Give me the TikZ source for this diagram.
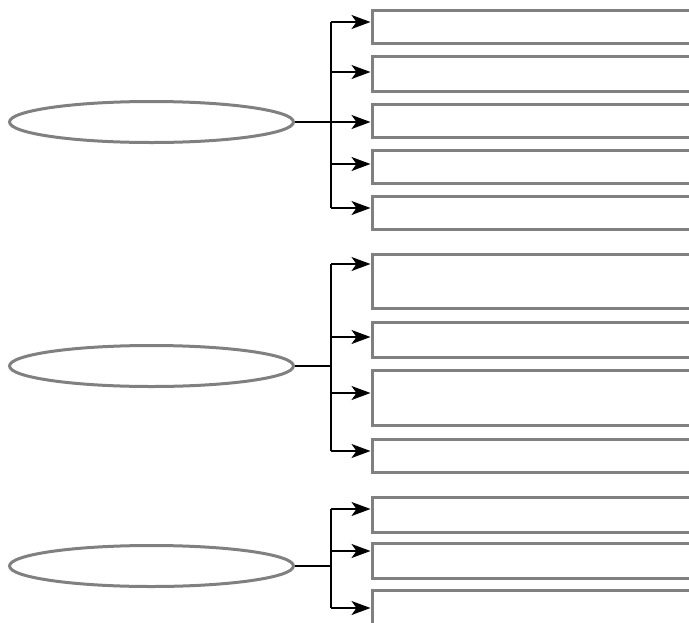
\documentclass[tikz,border=0pt]{standalone}
\usetikzlibrary{shapes.geometric,arrows.meta}
\definecolor{boxgray}{HTML}{808080}
\begin{document}
\begin{tikzpicture}[x=1pt,y=-1pt,
  box/.style={draw=boxgray,line width=3.2pt,anchor=north west,minimum width=340pt,inner sep=0pt,fill=white},
  oval/.style={ellipse,draw=boxgray,line width=3pt,minimum width=284pt,minimum height=41pt,inner sep=0pt},
  link/.style={line width=2pt,black},
  arr/.style={link,-{Stealth[length=19pt,width=14pt,inset=5pt]}}]
\useasboundingbox (0,0) rectangle (689,622);
\begin{scope}
\clip (0,0) rectangle (689,622);
% ---------- group 1 ----------
\node[oval] (e1) at (151.5,122) {};
\node[box,minimum height=33pt] (b11) at (370.5,8.5) {};
\node[box,minimum height=35pt] (b12) at (370.5,54.5) {};
\node[box,minimum height=33pt] (b13) at (370.5,102.5) {};
\node[box,minimum height=33pt] (b14) at (370.5,148.5) {};
\node[box,minimum height=33pt] (b15) at (370.5,194.5) {};
\coordinate (j11) at (331,22);
\coordinate (j12) at (331,72);
\coordinate (j13) at (331,122);
\coordinate (j14) at (331,164);
\coordinate (j15) at (331,208);
\draw[link] (e1.east) -- (j13);
\draw[link] (j11) -- (j15);
\draw[arr] (j11) -- (j11 -| b11.west);
\draw[arr] (j12) -- (j12 -| b12.west);
\draw[arr] (j13) -- (j13 -| b13.west);
\draw[arr] (j14) -- (j14 -| b14.west);
\draw[arr] (j15) -- (j15 -| b15.west);
% ---------- group 2 ----------
\node[oval] (e2) at (151.5,366) {};
\node[box,minimum height=54pt] (b21) at (370.5,252.5) {};
\node[box,minimum height=35pt] (b22) at (370.5,320.5) {};
\node[box,minimum height=55pt] (b23) at (370.5,368.5) {};
\node[box,minimum height=33pt] (b24) at (370.5,437.5) {};
\coordinate (j21) at (331,264);
\coordinate (j22) at (331,337);
\coordinate (j20) at (331,366);
\coordinate (j23) at (331,393);
\coordinate (j24) at (331,451);
\draw[link] (e2.east) -- (j20);
\draw[link] (j21) -- (j24);
\draw[arr] (j21) -- (j21 -| b21.west);
\draw[arr] (j22) -- (j22 -| b22.west);
\draw[arr] (j23) -- (j23 -| b23.west);
\draw[arr] (j24) -- (j24 -| b24.west);
% ---------- group 3 ----------
\node[oval] (e3) at (151.5,566) {};
\node[box,minimum height=35pt] (b31) at (370.5,495.5) {};
\node[box,minimum height=35pt] (b32) at (370.5,541.5) {};
\node[box,minimum height=36pt] (b33) at (370.5,588.5) {};
\coordinate (j31) at (331,509);
\coordinate (j32) at (331,551);
\coordinate (j30) at (331,566);
\coordinate (j33) at (331,608);
\draw[link] (e3.east) -- (j30);
\draw[link] (j31) -- (j33);
\draw[arr] (j31) -- (j31 -| b31.west);
\draw[arr] (j32) -- (j32 -| b32.west);
\draw[arr] (j33) -- (j33 -| b33.west);
\end{scope}
\end{tikzpicture}
\end{document}
